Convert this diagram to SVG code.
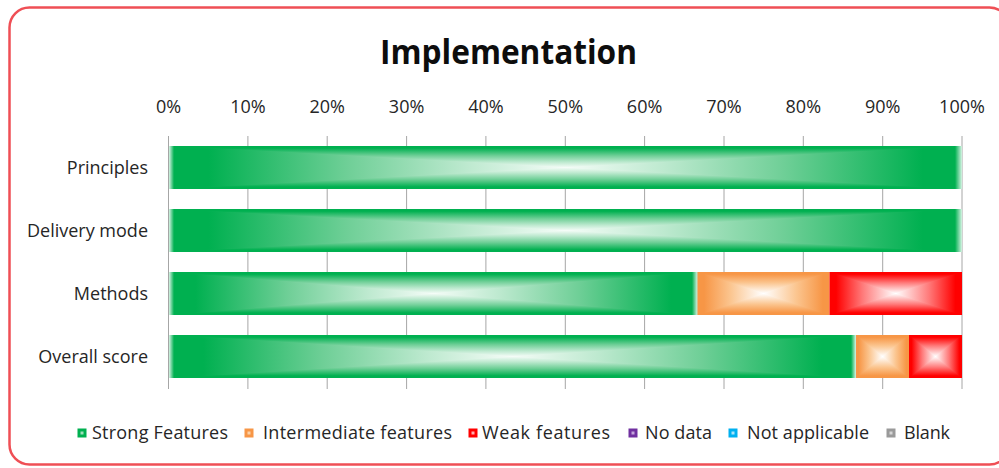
<svg xmlns="http://www.w3.org/2000/svg" xmlns:xlink="http://www.w3.org/1999/xlink" width="999" height="468" viewBox="0 0 999 468">
  <style>
    .lbl { font-family: "Open Sans", "Liberation Sans", sans-serif; font-size: 18px; fill: #262626; }
    .title { font-family: "Open Sans", "Liberation Sans", sans-serif; font-size: 34px; font-weight: bold; fill: #0d0d0d; }
    .grid { stroke: #a6a6a6; stroke-width: 1; }
  </style>
  <defs>
    <!-- rectangular "from centre" fills: H covers the left/right zones, V the top/bottom wedges -->
    <linearGradient id="gH" x1="0" y1="0" x2="0.5" y2="0" spreadMethod="reflect">
      <stop offset="0" stop-color="#00b050"/>
      <stop offset="0.1" stop-color="#00b050"/>
      <stop offset="0.45" stop-color="#6fcf97"/>
      <stop offset="0.75" stop-color="#bde9cf"/>
      <stop offset="1" stop-color="#f4fcf7"/>
    </linearGradient>
    <linearGradient id="gV" xlink:href="#gH" x1="0" y1="0" x2="0" y2="0.5" spreadMethod="reflect"/>
    <linearGradient id="oH" x1="0" y1="0" x2="0.5" y2="0" spreadMethod="reflect">
      <stop offset="0" stop-color="#f79646"/>
      <stop offset="0.1" stop-color="#f79646"/>
      <stop offset="0.5" stop-color="#fbc58f"/>
      <stop offset="1" stop-color="#ffffff"/>
    </linearGradient>
    <linearGradient id="oV" xlink:href="#oH" x1="0" y1="0" x2="0" y2="0.5" spreadMethod="reflect"/>
    <linearGradient id="rH" x1="0" y1="0" x2="0.5" y2="0" spreadMethod="reflect">
      <stop offset="0" stop-color="#ff0000"/>
      <stop offset="0.1" stop-color="#ff0000"/>
      <stop offset="0.5" stop-color="#ff7a7a"/>
      <stop offset="1" stop-color="#ffffff"/>
    </linearGradient>
    <linearGradient id="rV" xlink:href="#rH" x1="0" y1="0" x2="0" y2="0.5" spreadMethod="reflect"/>
    <linearGradient id="fadeL" x1="0" y1="0" x2="1" y2="0">
      <stop offset="0" stop-color="#ffffff" stop-opacity="0.85"/>
      <stop offset="1" stop-color="#ffffff" stop-opacity="0"/>
    </linearGradient>
    <linearGradient id="fadeR" x1="1" y1="0" x2="0" y2="0">
      <stop offset="0" stop-color="#ffffff" stop-opacity="0.85"/>
      <stop offset="1" stop-color="#ffffff" stop-opacity="0"/>
    </linearGradient>
  </defs>

  <rect x="0" y="0" width="999" height="468" fill="#ffffff"/>
  <!-- chart frame -->
  <rect x="9.5" y="7.5" width="1000" height="457" rx="20" ry="20" fill="#ffffff" stroke="#ef4f55" stroke-width="2.5"/>

  <text class="title" x="508.5" y="64" text-anchor="middle" textLength="257" lengthAdjust="spacingAndGlyphs">Implementation</text>

  <!-- value axis labels -->
  <g id="axis-labels" class="lbl" text-anchor="middle">
    <text x="168.5" y="113">0%</text>
    <text x="247.9" y="113">10%</text>
    <text x="327.2" y="113">20%</text>
    <text x="406.6" y="113">30%</text>
    <text x="485.9" y="113">40%</text>
    <text x="565.3" y="113">50%</text>
    <text x="644.6" y="113">60%</text>
    <text x="724" y="113">70%</text>
    <text x="803.3" y="113">80%</text>
    <text x="882.7" y="113">90%</text>
    <text x="962" y="113">100%</text>
  </g>

  <!-- gridlines -->
  <g id="gridlines" class="grid">
    <line x1="168.5" y1="136" x2="168.5" y2="389"/>
    <line x1="247.9" y1="136" x2="247.9" y2="389"/>
    <line x1="327.2" y1="136" x2="327.2" y2="389"/>
    <line x1="406.6" y1="136" x2="406.6" y2="389"/>
    <line x1="485.9" y1="136" x2="485.9" y2="389"/>
    <line x1="565.3" y1="136" x2="565.3" y2="389"/>
    <line x1="644.6" y1="136" x2="644.6" y2="389"/>
    <line x1="724" y1="136" x2="724" y2="389"/>
    <line x1="803.3" y1="136" x2="803.3" y2="389"/>
    <line x1="882.7" y1="136" x2="882.7" y2="389"/>
    <line x1="962" y1="136" x2="962" y2="389"/>
  </g>

  <!-- category labels -->
  <g id="category-labels" class="lbl" text-anchor="end">
    <text x="148" y="173.5">Principles</text>
    <text x="148" y="236.5">Delivery mode</text>
    <text x="148" y="299.5">Methods</text>
    <text x="148" y="362.5">Overall score</text>
  </g>

  <!-- Principles: 100% strong -->
  <g id="bar-principles">
    <rect x="169" y="146" width="793" height="43" fill="url(#gH)"/>
    <path d="M169 146 H962 L565.5 167.5 Z M169 189 H962 L565.5 167.5 Z" fill="url(#gV)"/>
    <rect x="169" y="146" width="5" height="43" fill="url(#fadeL)"/>
    <rect x="955" y="146" width="7" height="43" fill="url(#fadeR)"/>
  </g>

  <!-- Delivery mode: 100% strong -->
  <g id="bar-delivery">
    <rect x="169" y="209" width="793" height="43" fill="url(#gH)"/>
    <path d="M169 209 H962 L565.5 230.5 Z M169 252 H962 L565.5 230.5 Z" fill="url(#gV)"/>
    <rect x="169" y="209" width="5" height="43" fill="url(#fadeL)"/>
    <rect x="955" y="209" width="7" height="43" fill="url(#fadeR)"/>
  </g>

  <!-- Methods: strong / intermediate / weak -->
  <g id="bar-methods">
    <rect x="169" y="272" width="528.5" height="43" fill="url(#gH)"/>
    <path d="M169 272 H697.5 L433.25 293.5 Z M169 315 H697.5 L433.25 293.5 Z" fill="url(#gV)"/>
    <rect x="169" y="272" width="5" height="43" fill="url(#fadeL)"/>
    <rect x="692" y="272" width="5.5" height="43" fill="url(#fadeR)"/>
    <rect x="697.5" y="272" width="132" height="43" fill="url(#oH)"/>
    <path d="M697.5 272 H829.5 L763.5 293.5 Z M697.5 315 H829.5 L763.5 293.5 Z" fill="url(#oV)"/>
    <rect x="829.5" y="272" width="132.5" height="43" fill="url(#rH)"/>
    <path d="M829.5 272 H962 L895.75 293.5 Z M829.5 315 H962 L895.75 293.5 Z" fill="url(#rV)"/>
  </g>

  <!-- Overall score: strong / intermediate / weak -->
  <g id="bar-overall">
    <rect x="169" y="335" width="687" height="43" fill="url(#gH)"/>
    <path d="M169 335 H856 L512.5 356.5 Z M169 378 H856 L512.5 356.5 Z" fill="url(#gV)"/>
    <rect x="169" y="335" width="5" height="43" fill="url(#fadeL)"/>
    <rect x="851" y="335" width="5" height="43" fill="url(#fadeR)"/>
    <rect x="856" y="335" width="53" height="43" fill="url(#oH)"/>
    <path d="M856 335 H909 L882.5 356.5 Z M856 378 H909 L882.5 356.5 Z" fill="url(#oV)"/>
    <rect x="909" y="335" width="53" height="43" fill="url(#rH)"/>
    <path d="M909 335 H962 L935.5 356.5 Z M909 378 H962 L935.5 356.5 Z" fill="url(#rV)"/>
  </g>

  <!-- legend -->
  <g id="legend">
    <rect x="77.5" y="428.5" width="9" height="9" fill="#00b050"/>
    <rect x="80.5" y="431.5" width="3" height="3" fill="#9fe0bb"/>
    <text class="lbl" x="92" y="439" textLength="136">Strong Features</text>

    <rect x="244.5" y="428.5" width="9" height="9" fill="#f79646"/>
    <rect x="247.5" y="431.5" width="3" height="3" fill="#fcd2a8"/>
    <text class="lbl" x="263" y="439" textLength="189">Intermediate features</text>

    <rect x="468.5" y="428.5" width="9" height="9" fill="#ff0000"/>
    <rect x="471.5" y="431.5" width="3" height="3" fill="#ffb0b0"/>
    <text class="lbl" x="482" y="439" textLength="128">Weak features</text>

    <rect x="628.5" y="428.5" width="9" height="9" fill="#7030a0"/>
    <rect x="631.5" y="431.5" width="3" height="3" fill="#c4a4dc"/>
    <text class="lbl" x="645" y="439" textLength="67">No data</text>

    <rect x="728.5" y="428.5" width="9" height="9" fill="#00b0f0"/>
    <rect x="731.5" y="431.5" width="3" height="3" fill="#a8e4fa"/>
    <text class="lbl" x="747" y="439" textLength="122">Not applicable</text>

    <rect x="886.5" y="428.5" width="9" height="9" fill="#9a9a9a"/>
    <rect x="889.5" y="431.5" width="3" height="3" fill="#d6d6d6"/>
    <text class="lbl" x="904" y="439" textLength="46">Blank</text>
  </g>
</svg>
